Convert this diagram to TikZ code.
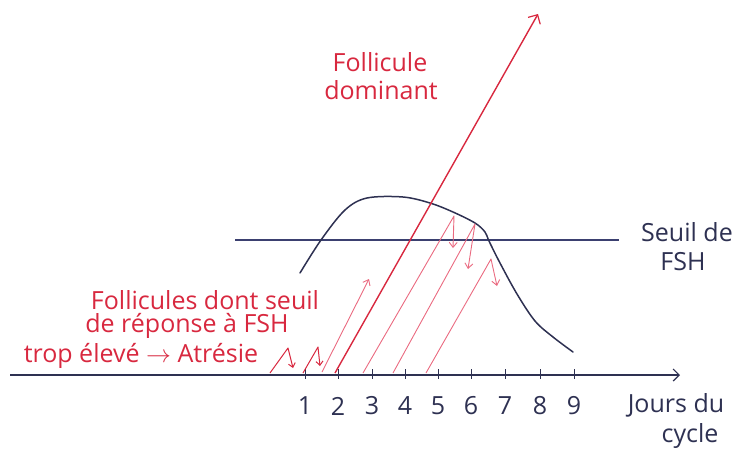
\documentclass[tikz,border=0pt]{standalone}
\usepackage{fontspec}
\setmainfont{Open Sans}
\usepackage{xcolor}
\definecolor{encreNuit}{HTML}{2E3152}
\definecolor{encreSeuil}{HTML}{3B4070}
\definecolor{rougeDom}{HTML}{D8283F}
\definecolor{roseFin}{HTML}{EA6A80}
\usetikzlibrary{arrows.meta}
\tikzset{
  %% ── Traits ───────────────────────────────────────────────────────────
  axe/.style       = {draw=encreNuit, line width=1.3pt,
                      -{Straight Barb[length=6pt, width=12pt, line width=1.2pt]}},
  graduation/.style = {draw=encreNuit, line width=0.8pt},
  seuil/.style     = {draw=encreSeuil, line width=1.1pt},
  courbeFSH/.style = {draw=encreNuit, line width=1.5pt, line cap=round},
  follDom/.style   = {draw=rougeDom, line width=1.4pt,
                      -{Straight Barb[length=7pt, width=14pt, line width=1.2pt]}},
  follFin/.style   = {draw=roseFin, line width=0.9pt, line join=round,
                      -{Straight Barb[length=5pt, width=8pt, line width=0.9pt]}},
  atresie/.style   = {draw=rougeDom, line width=1pt, line join=round,
                      -{Straight Barb[length=4pt, width=7pt, line width=1pt]}},
  %% ── Texte ────────────────────────────────────────────────────────────
  etiquette/.style = {text=rougeDom, inner sep=0pt, font=\fontsize{25}{28}\selectfont},
  legende/.style   = {text=encreNuit, inner sep=0pt, font=\fontsize{25}{28}\selectfont},
}
\begin{document}
\begin{tikzpicture}[x=1pt, y=-1pt]
\useasboundingbox (0,0) rectangle (745,448);

%% axe des jours
\coordinate (axeG) at (10,375);
\coordinate (axeD) at (680,375);
\draw[axe] (axeG) -- (axeD);
\foreach \j/\x in {1/305, 2/338, 3/372, 4/405, 5/438, 6/471, 7/505, 8/540, 9/574} {
  \draw[graduation] (\x,369) -- (\x,379);
  \node[legende] (jour\j) at (\x,406) {\j};
}
\node[legende] (jours) at (676,405) {Jours du};
\node[legende] (cycle) at (690,436) {cycle};

%% seuil de FSH
\coordinate (seuilG) at (235,240);
\coordinate (seuilD) at (619,240);
\draw[seuil] (seuilG) -- (seuilD);
\node[legende] (seuilTxt) at (687,232) {Seuil de};
\node[legende] (fshTxt) at (683,262) {FSH};

%% taux de FSH
\draw[courbeFSH] plot[smooth, tension=0.55] coordinates {
  (300,273) (321,240) (345,210) (367,198) (403,197) (430,203) (453,212)
  (475,223) (485,232) (489,241) (500,263) (517,294) (535,321) (553,337) (573,352)};

%% follicule dominant
\coordinate (domBas) at (335,373);
\coordinate (domHaut) at (538,14);
\draw[follDom] (domBas) -- (domHaut);
\node[etiquette] (domTxt1) at (380,62) {Follicule};
\node[etiquette] (domTxt2) at (381,90) {dominant};

%% follicules recrutés puis en atrésie
\draw[follFin] (322,372) -- (369,279);
\draw[follFin] (363,373) -- (454,216) -- (453,248);
\draw[follFin] (393,373) -- (475,224) -- (468,269);
\draw[follFin] (426,373) -- (491,259) -- (497,286);
\draw[atresie] (270,373) -- (288,348) -- (293,368);
\draw[atresie] (303,373) -- (318,347) -- (320,366);

%% seuil de réponse trop élevé
\node[etiquette] (atrTxt1) at (205,300) {Follicules dont seuil};
\node[etiquette] (atrTxt2) at (187,326) {de réponse à FSH};
\node[etiquette] (atrTxt3) at (141,356) {trop élevé $\rightarrow$ Atrésie};

\end{tikzpicture}
\end{document}
